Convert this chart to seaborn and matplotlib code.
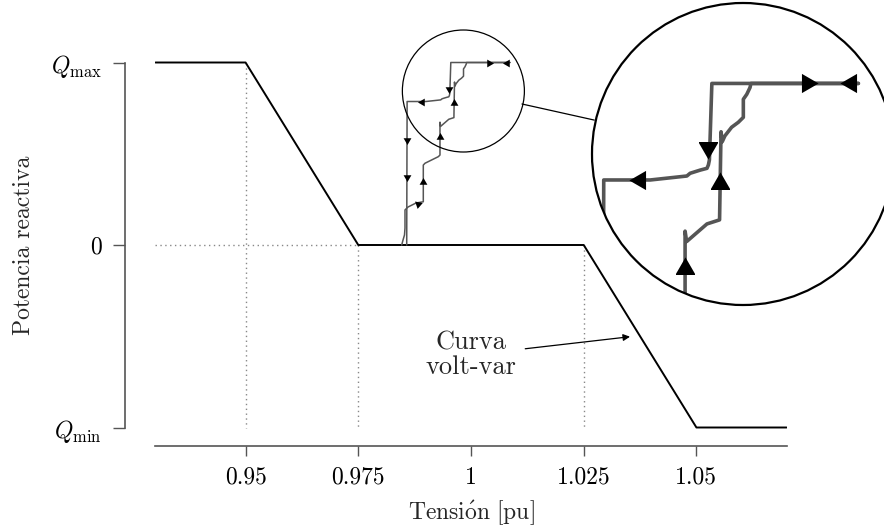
import numpy as np
import pandas as pd
import matplotlib
matplotlib.use("Agg")
import matplotlib.pyplot as plt
import seaborn as sns
from matplotlib.patches import Circle, Ellipse, ConnectionPatch

# ---------------- data ----------------
# volt-var characteristic
vv_v = [0.93, 0.95, 0.975, 1.025, 1.05, 1.07]
vv_q = [1.0, 1.0, 0.0, 0.0, -1.0, -1.0]

# trajectory going up (voltage rising)
up_v = [0.98463, 0.98492, 0.98525, 0.98536, 0.98536, 0.98602, 0.98780, 0.98942,
        0.98942, 0.98980, 0.99275, 0.99312, 0.99312, 0.99326, 0.99508, 0.99621,
        0.99634, 0.99645, 0.99669, 0.99729, 0.99789, 0.99834, 0.99834, 0.99865,
        0.99894, 0.99902, 1.00865]
up_q = [0.000, 0.027, 0.055, 0.093, 0.192, 0.208, 0.230, 0.237,
        0.438, 0.448, 0.484, 0.493, 0.673, 0.650, 0.689, 0.698,
        0.893, 0.871, 0.884, 0.903, 0.914, 0.925, 0.965, 0.976,
        0.991, 1.000, 1.000]

# trajectory going down (voltage falling)
dn_v = [1.00865, 0.99552, 0.99530, 0.99521, 0.99508, 0.99448, 0.99357, 0.99328,
        0.99000, 0.98583, 0.98574]
dn_q = [1.000, 1.000, 0.8307, 0.8197, 0.8121, 0.8082, 0.8011, 0.7951,
        0.7863, 0.7863, 0.000]

# direction arrows on the trajectories: position and pointing angle (deg)
arr_v = [0.98831, 0.98942, 0.99312, 0.99621, 1.00402,
         1.00803, 0.99521, 0.98911, 0.98574, 0.98574]
arr_q = [0.2247, 0.3468, 0.5912, 0.7792, 1.000,
         1.000, 0.8564, 0.7863, 0.5753, 0.3742]
arr_ang = [19, 90, 90, 90, 0,
           180, -90, 180, -90, -90]

x_ticks = [0.95, 0.975, 1.0, 1.025, 1.05]
x_ticklabels = ["0.95", "0.975", "1", "1.025", "1.05"]
y_ticks = [-1.0, 0.0, 1.0]
y_ticklabels = [r"$Q_\mathrm{min}$", "0", r"$Q_\mathrm{max}$"]

# zoom region (centre and radii in data units)
zoom_c = (0.99831, 0.8438)
zoom_r = (0.013532, 0.33425)

# ---------------- style ----------------
sns.set_theme(style="white")
plt.rcParams["font.family"] = ["serif"]
plt.rcParams["font.serif"] = ["cmr10", "DejaVu Serif"]
plt.rcParams["mathtext.fontset"] = "cm"
plt.rcParams["axes.unicode_minus"] = False
plt.rcParams["axes.formatter.use_mathtext"] = True

FS_TICK = 17
FS_Q = 17
FS_XLAB = 17
FS_YLAB = 17
FS_ANN = 19
SPINE = "#555555"
TRAJ = "#555555"

fig = plt.figure(figsize=(8.84, 5.29), dpi=100)
ax = fig.add_axes([0.17579, 0.15737, 0.71403, 0.75898])

# reference dotted lines
dot = dict(color="#888888", lw=1.0, ls=(0, (1, 2.5)), zorder=1)
ax.plot([0.95, 0.95], [1.0, -1.0], **dot)
ax.plot([0.975, 0.975], [0.0, -1.0], **dot)
ax.plot([1.025, 1.025], [0.0, -1.0], **dot)
ax.plot([0.93, 0.975], [0.0, 0.0], **dot)

# volt-var curve
vv = pd.DataFrame({"v": vv_v, "q": vv_q})
sns.lineplot(data=vv, x="v", y="q", sort=False, estimator=None,
             color="black", lw=1.4, ax=ax, zorder=3)

up = pd.DataFrame({"v": up_v, "q": up_q})
dn = pd.DataFrame({"v": dn_v, "q": dn_q})


def draw_traj(a, lw, ms, clip=None):
    sns.lineplot(data=up, x="v", y="q", sort=False, estimator=None,
                 color=TRAJ, lw=lw, ax=a, zorder=4)
    sns.lineplot(data=dn, x="v", y="q", sort=False, estimator=None,
                 color=TRAJ, lw=lw, ax=a, zorder=4)
    for v, q, ang in zip(arr_v, arr_q, arr_ang):
        a.plot([v], [q], ls="none", marker=(3, 0, ang - 90),
               ms=ms, color="black", mec="black", mew=0, zorder=5)
    if clip is not None:
        for ln in a.lines:
            ln.set_clip_path(clip)


draw_traj(ax, 1.1, 6.5)

ax.set_xlim(0.93, 1.07)
ax.set_ylim(-1.1, 1.1)
ax.set_xticks(x_ticks)
ax.set_xticklabels(x_ticklabels)
ax.set_yticks(y_ticks)
ax.set_yticklabels(y_ticklabels)
ax.set_xlabel(r"$\mathrm{Tensi}\acute{\mathrm{o}}\mathrm{n\ [pu]}$",
              fontsize=FS_XLAB, labelpad=7)
ax.set_ylabel("Potencia reactiva", fontsize=FS_YLAB)
ax.yaxis.set_label_coords(-0.19, 0.5)

for s in ["top", "right"]:
    ax.spines[s].set_visible(False)
ax.spines["left"].set_position(("outward", 21.6))
ax.spines["left"].set_bounds(-1.0, 1.0)
for s in ["left", "bottom"]:
    ax.spines[s].set_color(SPINE)
    ax.spines[s].set_linewidth(1.2)
ax.tick_params(axis="both", which="major", direction="out",
               width=1.0, color=SPINE, labelsize=FS_TICK, labelcolor="black")
ax.tick_params(axis="x", bottom=True, length=7.5, pad=7.5)
ax.tick_params(axis="y", left=True, length=8.5, pad=8.5)
for t, txt in zip(ax.get_yticklabels(), y_ticklabels):
    t.set_fontsize(FS_Q if "Q" in txt else FS_TICK)
ax.patch.set_alpha(0)

# small zoom circle
ell = Ellipse(zoom_c, 2 * zoom_r[0], 2 * zoom_r[1], fill=False, ec="black",
              lw=0.9, clip_on=False, zorder=6)
ax.add_patch(ell)

# annotation
ax.annotate("Curva\nvolt-var", xy=(1.03527, -0.5025), xytext=(1.0, -0.6027),
            ha="center", va="center", fontsize=FS_ANN, linespacing=1.0,
            arrowprops=dict(arrowstyle="-|>", color="black", lw=0.9,
                            mutation_scale=10, shrinkA=4, shrinkB=0))

# inset magnified circle
axins = fig.add_axes([0.66968, 0.42344, 0.34163, 0.57089])
axins.set_zorder(10)
axins.patch.set_visible(False)
axins.set_axis_off()
bg = Circle((0.5, 0.5), 0.5, transform=axins.transAxes, fc="white", ec="none",
            zorder=0)
axins.add_patch(bg)
draw_traj(axins, 2.6, 16, clip=bg)
border = Circle((0.5, 0.5), 0.5, transform=axins.transAxes, fill=False,
                ec="black", lw=1.6, zorder=8, clip_on=False)
axins.add_patch(border)
axins.set_xlim(zoom_c[0] - zoom_r[0], zoom_c[0] + zoom_r[0])
axins.set_ylim(zoom_c[1] - zoom_r[1], zoom_c[1] + zoom_r[1])

con = ConnectionPatch(xyA=(1.01131, 0.7726), coordsA=ax.transData,
                      xyB=(0.98498, 0.9189), coordsB=axins.transData,
                      color="black", lw=0.9)
fig.add_artist(con)

fig.savefig("out.png", dpi=100)
